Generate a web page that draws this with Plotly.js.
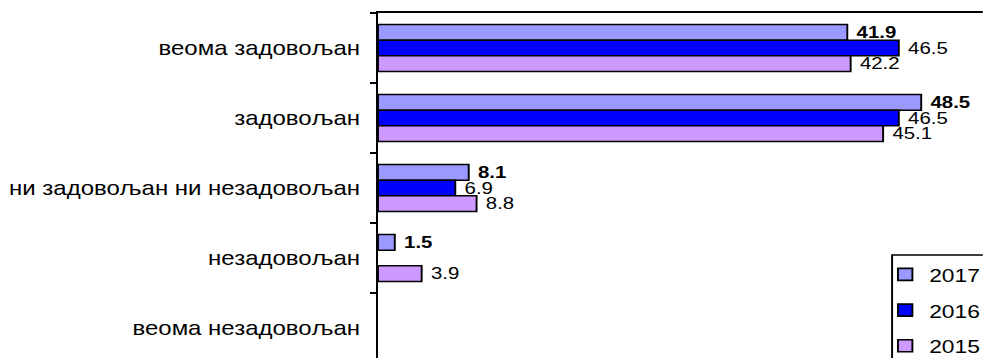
<!DOCTYPE html>
<html>
<head>
<meta charset="utf-8">
<script src="https://cdn.plot.ly/plotly-3.0.1.min.js"></script>
<style>
  html, body { margin: 0; padding: 0; overflow: hidden; background: #fff; width: 983px; height: 358px; }
  #chart { width: 819px; height: 365px; transform: scaleX(1.2); transform-origin: 0 0; }
</style>
</head>
<body>
<div id="chart"></div>
<script>
// Data
const categories = ["веома задовољан", "задовољан", "ни задовољан ни незадовољан", "незадовољан", "веома незадовољан"];
const seriesNames = ["2017", "2016", "2015"];
const values2017 = [41.9, 48.5, 8.1, 1.5, null];
const values2016 = [46.5, 46.5, 6.9, null, null];
const values2015 = [42.2, 45.1, 8.8, 3.9, null];
const seriesColors = ["#9999FF", "#0000FF", "#CC99FF"];

const FONT = "Liberation Sans, Arial, sans-serif";
const allValues = [values2017, values2016, values2015];

const traces = allValues.map((vals, i) => ({
  type: "bar",
  orientation: "h",
  name: seriesNames[i],
  legendgroup: seriesNames[i],
  y: categories,
  x: vals,
  marker: { color: seriesColors[i], line: { color: "#000000", width: 1.6 } },
  texttemplate: i === 0 ? " <b>%{x:.1f}</b>" : " %{x:.1f}",
  textposition: "outside",
  constraintext: "none",
  cliponaxis: false,
  textfont: { family: FONT, size: 17, color: "#000000" },
  hoverinfo: "skip"
}));

const layout = {
  width: 819,
  height: 365,
  margin: { l: 315, r: 0, t: 13, b: 2, autoexpand: false },
  paper_bgcolor: "#ffffff",
  plot_bgcolor: "#ffffff",
  font: { family: FONT, size: 18, color: "#000000" },
  barmode: "group",
  bargap: 0.33,
  bargroupgap: 0,
  showlegend: true,
  legend: {
    x: 0.832, xanchor: "left",
    y: 0.307, yanchor: "top",
    bgcolor: "rgba(0,0,0,0)",
    borderwidth: 0,
    traceorder: "grouped",
    tracegroupgap: 8,
    itemwidth: 30,
    font: { family: FONT, size: 19, color: "#000000" }
  },
  xaxis: {
    range: [0, 54],
    showgrid: false,
    zeroline: false,
    showticklabels: false,
    ticks: "",
    showline: true,
    mirror: true,
    linecolor: "#000000",
    linewidth: 1.6
  },
  yaxis: {
    type: "category",
    range: [4.5, -0.5],
    showgrid: false,
    zeroline: false,
    showline: true,
    linecolor: "#000000",
    linewidth: 2,
    ticks: "outside",
    tickson: "boundaries",
    ticklen: 5,
    tickwidth: 2,
    tickcolor: "#000000",
    ticklabelstandoff: 9,
    tickfont: { family: FONT, size: 20, color: "#000000" }
  },
  shapes: [{
    type: "rect",
    xref: "paper", yref: "paper",
    x0: 0.85, x1: 1.2, y0: -0.2, y1: 0.3086,
    line: { color: "#000000", width: 1.6 },
    fillcolor: "rgba(0,0,0,0)",
    layer: "below"
  }]
};

Plotly.newPlot("chart", traces, layout, { displayModeBar: false, staticPlot: true });
</script>
</body>
</html>
